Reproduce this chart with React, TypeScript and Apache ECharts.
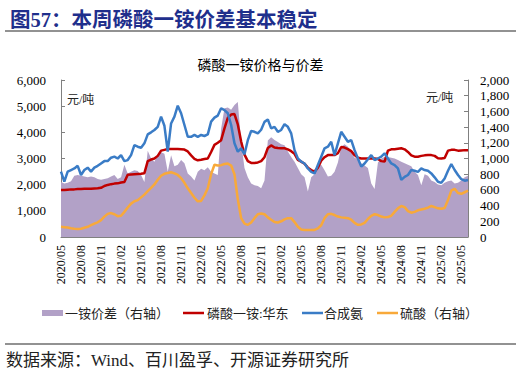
import React, { useEffect, useRef } from "react";
import * as echarts from "echarts";

const SERIF = "'Liberation Serif', 'Noto Sans CJK SC', serif";
const CJK = "'Liberation Serif', 'Noto Sans CJK SC', sans-serif";

// half-month sampling from 2020/05 to 2025/06
const startYear = 2020;
const startMonth = 5;
const dates: string[] = Array.from({ length: 123 }, (_, i) => {
  const m = startMonth - 1 + Math.floor(i / 2);
  const y = startYear + Math.floor(m / 12);
  const mm = (m % 12) + 1;
  return `${y}/${String(mm).padStart(2, "0")}/${i % 2 === 0 ? "01" : "16"}`;
});

// 合成氨 (left axis, 元/吨)
const ammonia = [
  2500, 2120, 2500, 2560, 2620, 2720, 2370, 2560, 2650, 2500,
  2650, 2720, 2810, 2900, 2900, 3030, 3070, 3000, 3130, 2900,
  2940, 3130, 3510, 3450, 3410, 3580, 3920, 4000, 4090, 4210,
  4600, 4250, 3260, 4340, 4600, 5020, 4730, 4280, 3830, 3830,
  3900, 3830, 3900, 3860, 3920, 4410, 4560, 4640, 4920, 4850,
  4730, 4280, 3580, 3260, 3390, 3160, 3700, 4050, 4020, 3960,
  4100, 4400, 4490, 4150, 4210, 4020, 4090, 4310, 4210, 3960,
  3320, 3000, 2880, 2810, 2620, 2490, 2430, 2750, 3070, 3390,
  3450, 3640, 3130, 3580, 4020, 3830, 3640, 3700, 3320, 3000,
  2690, 2810, 2970, 3130, 2940, 3000, 3070, 3200, 3000, 2810,
  2750, 2620, 2180, 2300, 2370, 2560, 2530, 2490, 2620, 2560,
  2530, 2430, 2280, 2110, 2070, 2240, 2530, 2790, 2560, 2370,
  2210, 2150, 2180,
];

// 磷酸一铵:华东 (left axis, 元/吨)
const map = [
  1800, 1800, 1810, 1820, 1820, 1830, 1830, 1840, 1840, 1840,
  1850, 1860, 1880, 1950, 1990, 2020, 2040, 2050, 2080, 2100,
  2380, 2390, 2400, 2410, 2420, 2440, 2900, 2960, 3000, 3100,
  3300, 3330, 3360, 3360, 3360, 3360, 3350, 3340, 3270, 3120,
  2990, 2930, 2950, 2980, 3000, 3250, 3520, 3600, 3700, 4150,
  4550, 4680, 4700, 4300, 3650, 3150, 2900, 2830, 2830, 2850,
  2900, 3050, 3400, 3500, 3420, 3400, 3390, 3390, 3350, 3280,
  3180, 2950, 2880, 2800, 2650, 2560, 2500, 2650, 2920, 3050,
  3130, 3130, 3130, 3200, 3440, 3420, 3360, 3280, 3130, 3030,
  3000, 3000, 3000, 3000, 3000, 2980, 2900, 2880, 3300, 3350,
  3350, 3370, 3390, 3350, 3250, 3120, 3070, 3070, 3100, 3120,
  3130, 3130, 3100, 3010, 3000, 3020, 3300, 3330, 3330, 3300,
  3310, 3320, 3320,
];

// 硫酸 (right axis, 元/吨)
const sulfuric = [
  130, 125, 120, 112, 106, 102, 106, 118, 130, 150,
  170, 187, 215, 260, 295, 305, 290, 265, 270, 320,
  375, 425, 455, 470, 505, 540, 585, 625, 670, 730,
  780, 805, 815, 825, 810, 790, 750, 690, 620, 560,
  500, 455, 460, 530, 620, 800, 920, 910, 915, 930,
  935, 910, 800, 480, 240, 170, 155, 185, 240, 290,
  300, 290, 250, 220, 190, 185, 200, 225, 240, 240,
  190, 130, 95, 90, 88, 88, 90, 110, 150, 240,
  290, 295, 280, 260, 250, 245, 240, 220, 180, 155,
  160, 180, 230, 270, 290, 280, 260, 250, 255, 270,
  320, 365, 395, 380, 330, 310, 320, 340, 350, 360,
  375, 395, 380, 365, 360, 370, 470, 590, 615, 560,
  550, 570, 590,
];

// 一铵价差 (right axis, 元/吨)
const spread = [
  700, 680, 690, 710, 780, 790, 780, 770, 760, 770,
  760, 740, 730, 740, 750, 770, 790, 740, 760, 920,
  810, 830, 850, 840, 790, 700, 1100, 1000, 960, 1050,
  1080, 1060, 830, 1040, 900, 920, 980, 940, 810, 770,
  720, 830, 870, 850, 890, 830, 810, 790, 1380, 1640,
  1650, 1620, 1680, 1720, 1210, 880, 760, 680, 660, 650,
  620, 720, 1230, 1270, 1235, 1210, 1180, 1170, 1090, 1020,
  960, 880, 800, 760, 580, 760, 800, 900, 920, 850,
  770, 780, 830, 950, 1150, 1180, 1150, 1090, 1010, 990,
  940, 910, 880, 680, 610, 950, 1000, 1020, 1020, 1010,
  1000, 980, 960, 940, 920, 900, 830, 790, 660, 800,
  780, 720, 700, 670, 660, 690, 710, 720, 680, 690,
  720, 760, 780,
];

const leftTicks = { min: 0, max: 6000, interval: 1000 };
const rightTicks = { min: 0, max: 2000, interval: 200 };

const names = ["一铵价差（右轴）", "磷酸一铵:华东", "合成氨", "硫酸（右轴）"];
const colors = ["#B2A1C7", "#C00000", "#3A7CC6", "#F8A93A"];

const fmt = (v: number) => v.toLocaleString("en-US");

export default function App() {
  const ref = useRef<HTMLDivElement>(null);
  useEffect(() => {
    if (!ref.current) return;
    const chart = echarts.init(ref.current, null, { renderer: "svg" });
    const axisColor = "#808080";
    const showIdx = (i: number) => i % 6 === 0;

    // legend drawn as graphic (icon x-positions, text x-positions)
    const legendY = 313;
    const legendIconX = [42, 183, 302, 377];
    const legendTextX = [65, 207, 324, 400];
    const legendItems: any[] = [];
    names.forEach((n, k) => {
      if (k === 0) {
        legendItems.push({
          type: "rect",
          shape: { x: legendIconX[k], y: legendY - 3, width: 21, height: 6 },
          style: { fill: colors[k] },
        });
      } else {
        legendItems.push({
          type: "line",
          shape: { x1: legendIconX[k], y1: legendY, x2: legendIconX[k] + 21, y2: legendY },
          style: { stroke: colors[k], lineWidth: 2.5 },
        });
      }
      legendItems.push({
        type: "text",
        x: legendTextX[k],
        y: legendY,
        style: { text: n, fill: "#222", fontSize: 13, fontFamily: CJK, verticalAlign: "middle" },
      });
    });

    chart.setOption({
      animation: false,
      backgroundColor: "#fff",
      title: [
        {
          text: "图57：本周磷酸一铵价差基本稳定",
          left: 5,
          top: 5,
          textStyle: { color: "#1F2F8C", fontSize: 20.5, fontWeight: "bold", fontFamily: CJK },
        },
        {
          text: "磷酸一铵价格与价差",
          left: "center",
          top: 53,
          textStyle: { color: "#000", fontSize: 14, fontWeight: "normal", fontFamily: CJK },
        },
      ],
      graphic: [
        { type: "line", shape: { x1: 5, y1: 31, x2: 516, y2: 31 }, style: { stroke: "#6e6e6e", lineWidth: 1.5 } },
        { type: "line", shape: { x1: 5, y1: 344, x2: 516, y2: 344 }, style: { stroke: "#6e6e6e", lineWidth: 1.5 } },
        {
          type: "text", left: 6, top: 352,
          style: { text: "数据来源：Wind、百川盈孚、开源证券研究所", fill: "#222", fontSize: 17, fontFamily: CJK },
        },
        { type: "text", left: 67, top: 94, style: { text: "元/吨", fill: "#222", fontSize: 12, fontFamily: CJK } },
        { type: "text", left: 426, top: 92, style: { text: "元/吨", fill: "#222", fontSize: 12, fontFamily: CJK } },
        ...legendItems,
      ],
      grid: { left: 61, right: 53, top: 80, bottom: 137 },
      xAxis: {
        type: "category",
        data: dates,
        boundaryGap: false,
        axisLine: { lineStyle: { color: axisColor } },
        axisTick: { inside: true, length: 4, interval: (i: number) => showIdx(i), lineStyle: { color: axisColor } },
        axisLabel: {
          interval: (i: number) => showIdx(i),
          rotate: 90,
          margin: 8,
          formatter: (v: string) => v.slice(0, 7),
          fontSize: 12,
          fontFamily: SERIF,
          color: "#000",
        },
        splitLine: { show: false },
      },
      yAxis: [
        {
          type: "value",
          ...leftTicks,
          axisLine: { show: true, lineStyle: { color: axisColor } },
          axisTick: { show: true, inside: true, length: 4, lineStyle: { color: axisColor } },
          axisLabel: { formatter: fmt, fontSize: 13, fontFamily: SERIF, color: "#000", margin: 15 },
          splitLine: { show: false },
        },
        {
          type: "value",
          ...rightTicks,
          position: "right",
          axisLine: { show: true, lineStyle: { color: axisColor } },
          axisTick: { show: true, inside: true, length: 4, lineStyle: { color: axisColor } },
          axisLabel: { formatter: fmt, fontSize: 13, fontFamily: SERIF, color: "#000", margin: 12 },
          splitLine: { show: false },
        },
      ],
      series: [
        {
          name: names[0],
          type: "line",
          yAxisIndex: 1,
          data: spread,
          symbol: "none",
          lineStyle: { width: 0, color: colors[0] },
          itemStyle: { color: colors[0] },
          areaStyle: { color: colors[0], opacity: 1 },
          z: 1,
        },
        {
          name: names[1],
          type: "line",
          yAxisIndex: 0,
          data: map,
          symbol: "none",
          lineStyle: { width: 2.5, color: colors[1] },
          itemStyle: { color: colors[1] },
          z: 2,
        },
        {
          name: names[2],
          type: "line",
          yAxisIndex: 0,
          data: ammonia,
          symbol: "none",
          lineStyle: { width: 2.5, color: colors[2] },
          itemStyle: { color: colors[2] },
          z: 3,
        },
        {
          name: names[3],
          type: "line",
          yAxisIndex: 1,
          data: sulfuric,
          symbol: "none",
          lineStyle: { width: 2.5, color: colors[3] },
          itemStyle: { color: colors[3] },
          z: 4,
        },
      ],
    });
    return () => chart.dispose();
  }, []);
  return (
    <div
      ref={ref}
      style={{ position: "fixed", left: 0, top: 0, width: 521, height: 374, background: "#fff" }}
    />
  );
}
